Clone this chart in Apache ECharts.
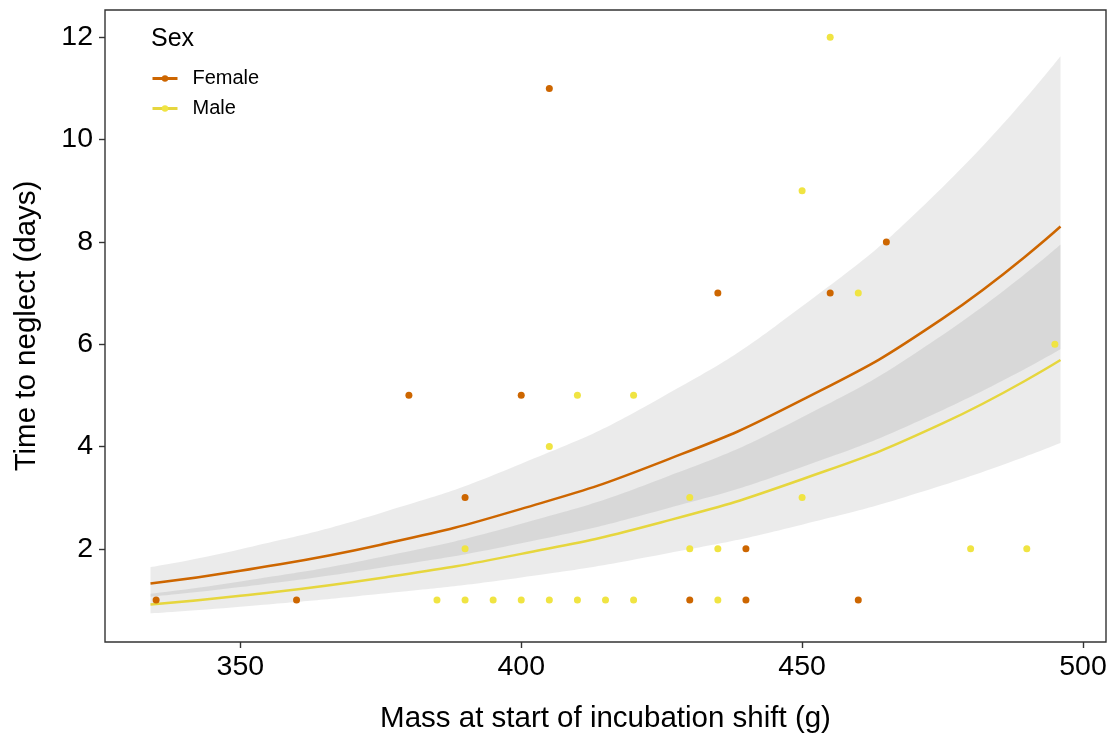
<!DOCTYPE html>
<html>
<head>
<meta charset="utf-8">
<title>Time to neglect vs mass</title>
<script src="https://cdn.jsdelivr.net/npm/echarts@6/dist/echarts.min.js"></script>
<style>
  html, body { margin: 0; padding: 0; background: #fff; }
  #chart { width: 1114px; height: 738px; }
</style>
</head>
<body>
<div id="chart"></div>
<script>
// fitted curves and their confidence bands
const curveMass = [334, 350, 375, 400, 425, 450, 475, 496];
const femaleFit = [1.32, 1.57, 2.08, 2.78, 3.70, 4.91, 6.50, 8.30];
const femaleLower = [1.06, 1.25, 1.63, 2.11, 2.76, 3.60, 4.71, 5.90];
const femaleUpper = [1.64, 1.99, 2.70, 3.66, 4.96, 6.74, 9.07, 11.63];
const maleFit = [0.91, 1.08, 1.43, 1.90, 2.52, 3.36, 4.45, 5.69];
const maleLower = [0.735, 0.865, 1.12, 1.44, 1.89, 2.47, 3.24, 4.07];
const maleUpper = [1.12, 1.36, 1.84, 2.49, 3.37, 4.57, 6.18, 7.95];

// observed birds
const femaleMass = [335, 360, 380, 390, 400, 405, 430, 435, 440, 440, 455, 460, 465];
const femaleDays = [1, 1, 5, 3, 5, 11, 1, 7, 2, 1, 7, 1, 8];
const maleMass = [385, 390, 395, 400, 405, 410, 415, 420, 435, 390, 430, 435, 480, 490,
                  430, 450, 405, 410, 420, 495, 460, 450, 455];
const maleDays = [1, 1, 1, 1, 1, 1, 1, 1, 1, 2, 2, 2, 2, 2,
                  3, 3, 4, 5, 5, 6, 7, 9, 12];

const xTicks = [350, 400, 450, 500];
const yTicks = [2, 4, 6, 8, 10, 12];

const FEMALE = "#CD6600";
const MALE = "#F0E442";
const MALE_LINE = "#E6D63E";
const BAND = "rgba(0, 0, 0, 0.08)";
const FONT = "Liberation Sans";
const SMOOTH = 0.5;

function pairs(xs, ys) {
  return xs.map((x, i) => [x, ys[i]]);
}

// ribbon = invisible lower line + stacked band (upper - lower).
// values go first in each item so the stack runs on y, not on mass
function ribbon(id, lower, upper) {
  var common = {
    type: "line",
    stack: id,
    z: 1,
    smooth: SMOOTH,
    symbol: "none",
    silent: true,
    encode: { x: 1, y: 0 },
    lineStyle: { opacity: 0 },
  };
  return [
    Object.assign({}, common, {
      name: id + " lower",
      data: lower.map((v, i) => [v, curveMass[i]]),
    }),
    Object.assign({}, common, {
      name: id + " band",
      areaStyle: { color: BAND, opacity: 1 },
      data: upper.map((u, i) => [u - lower[i], curveMass[i]]),
    }),
  ];
}

var myChart = echarts.init(document.getElementById("chart"), null, {
  width: 1114,
  height: 738,
});

var option = {
  animation: false,
  backgroundColor: "#fff",
  textStyle: { fontFamily: FONT, color: "#000" },
  title: {
    text: "Sex",
    left: 146,
    top: 22,
    textStyle: { fontFamily: FONT, fontSize: 25, fontWeight: "normal", color: "#000" },
  },
  legend: {
    data: ["Female", "Male"],
    orient: "vertical",
    left: 146,
    top: 63.5,
    itemWidth: 25,
    itemHeight: 8,
    itemGap: 10,
    lineStyle: { width: 3 },
    textStyle: {
      fontFamily: FONT,
      fontSize: 20,
      color: "#000",
      padding: [0, 0, 0, 10],
    },
  },
  grid: {
    left: 105,
    right: 8,
    top: 10,
    bottom: 96,
    show: true,
    borderColor: "#333",
    borderWidth: 1.4,
    outerBoundsMode: "none",
  },
  xAxis: {
    type: "value",
    min: 325.9,
    max: 504.1,
    name: "Mass at start of incubation shift (g)",
    nameLocation: "middle",
    nameGap: 62,
    nameTextStyle: { fontFamily: FONT, fontSize: 29.5, color: "#000" },
    axisLine: { show: false },
    splitLine: { show: false },
    axisTick: {
      show: true,
      length: 6,
      customValues: xTicks,
      lineStyle: { color: "#333", width: 1.4 },
    },
    axisLabel: {
      customValues: xTicks,
      margin: 11,
      fontFamily: FONT,
      fontSize: 28.5,
      color: "#000",
    },
  },
  yAxis: {
    type: "value",
    min: 0.177,
    max: 12.534,
    name: "Time to neglect (days)",
    nameLocation: "middle",
    nameGap: 63,
    nameTextStyle: { fontFamily: FONT, fontSize: 29.5, color: "#000" },
    axisLine: { show: false },
    splitLine: { show: false },
    axisTick: {
      show: true,
      length: 6,
      customValues: yTicks,
      lineStyle: { color: "#333", width: 1.4 },
    },
    axisLabel: {
      customValues: yTicks,
      margin: 12,
      fontFamily: FONT,
      fontSize: 28.5,
      color: "#000",
    },
  },
  series: [
    {
      name: "Female",
      type: "line",
      z: 2,
      smooth: SMOOTH,
      symbol: "circle",
      showSymbol: false,
      color: FEMALE,
      lineStyle: { color: FEMALE, width: 2.5 },
      data: pairs(curveMass, femaleFit),
    },
    {
      name: "Male",
      type: "line",
      z: 2,
      smooth: SMOOTH,
      symbol: "circle",
      showSymbol: false,
      color: MALE,
      lineStyle: { color: MALE_LINE, width: 2.5 },
      data: pairs(curveMass, maleFit),
    },
    ...ribbon("female", femaleLower, femaleUpper),
    ...ribbon("male", maleLower, maleUpper),
    {
      name: "Male",
      type: "scatter",
      z: 3,
      symbolSize: 7,
      itemStyle: { color: MALE, opacity: 1 },
      data: pairs(maleMass, maleDays),
    },
    {
      name: "Female",
      type: "scatter",
      z: 3,
      symbolSize: 7,
      itemStyle: { color: FEMALE, opacity: 1 },
      data: pairs(femaleMass, femaleDays),
    },
  ],
};
myChart.setOption(option);
</script>
</body>
</html>
